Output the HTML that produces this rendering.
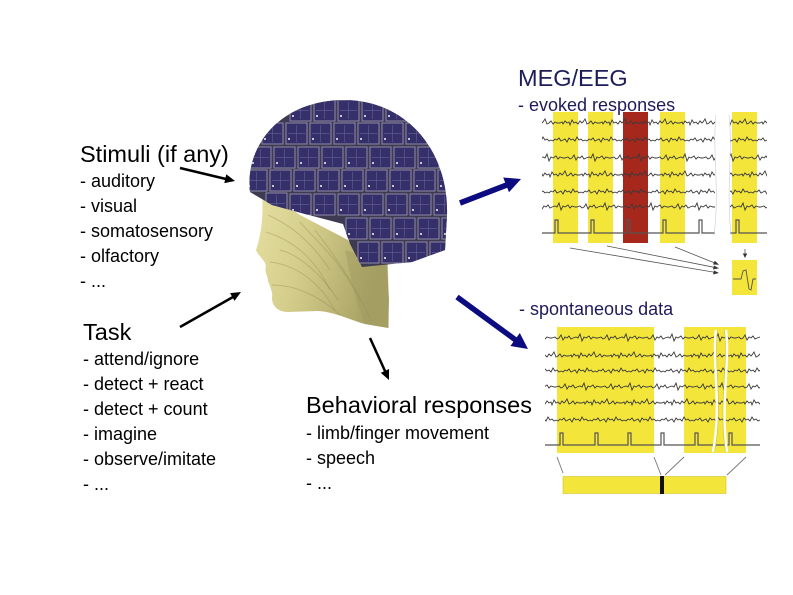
<!DOCTYPE html>
<html><head><meta charset="utf-8"><style>
html,body{margin:0;padding:0;background:#fff;}
svg{display:block;}
text{font-family:"Liberation Sans",Arial,sans-serif;}
</style></head><body>
<svg width="793" height="595" viewBox="0 0 793 595" xmlns="http://www.w3.org/2000/svg">
<defs>
<pattern id="p1" patternUnits="userSpaceOnUse" width="40" height="14"><polyline fill="none" stroke="#3a3a3a" stroke-width="0.9" points="0,7 2,6 3,8 5,5 7,7 9,6 10,9 12,4 14,7 16,6 18,8 20,5 22,7 23,6 25,3 27,8 29,7 31,5 33,8 35,6 37,7 40,7"/></pattern>
<pattern id="p2" patternUnits="userSpaceOnUse" width="34" height="14"><polyline fill="none" stroke="#3a3a3a" stroke-width="0.9" points="0,7 2,8 4,6 6,7 8,5 10,8 12,7 14,6 16,9 18,5 20,7 22,6 24,8 26,4 28,7 30,6 32,8 34,7"/></pattern>
<pattern id="p3" patternUnits="userSpaceOnUse" width="46" height="14"><polyline fill="none" stroke="#3a3a3a" stroke-width="0.9" points="0,7 3,6 5,8 7,7 9,4 11,9 13,6 15,7 17,5 19,8 21,7 24,6 26,7 28,3 30,10 32,6 34,7 37,5 39,8 41,6 44,7 46,7"/></pattern>
<linearGradient id="face" x1="0" y1="0" x2="1" y2="0.3">
<stop offset="0" stop-color="#e6e0a2"/><stop offset="0.45" stop-color="#d4cd8a"/><stop offset="1" stop-color="#aaa366"/>
</linearGradient>
<clipPath id="helm"><path d="M250,192 C245,150 275,103 340,100 C405,98 449,150 447,215 L445,250 L412,262 L362,267 L350,244 L343,224 L305,214 L272,205 Z"/></clipPath>
<g id="t"><rect x="0" y="0" width="21" height="21" fill="#36306a" stroke="#8e8aa8" stroke-width="1"/><path d="M10.5,2 V19 M2,10.5 H19" stroke="#5e5a92" stroke-width="0.7"/><rect x="2" y="15" width="2" height="2" fill="#c8c8d8"/></g>
</defs>

<!-- Left text -->
<text x="80" y="162" font-size="23.5">Stimuli (if any)</text>
<g font-size="18">
<text x="80" y="187">- auditory</text>
<text x="80" y="212">- visual</text>
<text x="80" y="237">- somatosensory</text>
<text x="80" y="262">- olfactory</text>
<text x="80" y="287">- ...</text>
</g>
<text x="83" y="340" font-size="23.5">Task</text>
<g font-size="18">
<text x="83" y="365">- attend/ignore</text>
<text x="83" y="390">- detect + react</text>
<text x="83" y="415">- detect + count</text>
<text x="83" y="440">- imagine</text>
<text x="83" y="465">- observe/imitate</text>
<text x="83" y="490">- ...</text>
</g>
<text x="306" y="413" font-size="23.5">Behavioral responses</text>
<g font-size="18">
<text x="306" y="439">- limb/finger movement</text>
<text x="306" y="464">- speech</text>
<text x="306" y="489">- ...</text>
</g>
<text x="518" y="86" font-size="23.5" fill="#1c1c5a">MEG/EEG</text>
<text x="518" y="111" font-size="18" fill="#1c1c5a">- evoked responses</text>
<text x="519" y="315" font-size="18" fill="#1c1c5a">- spontaneous data</text>

<!-- Black arrows -->
<g stroke="#000" stroke-width="2.5" fill="none">
<line x1="180" y1="168" x2="226" y2="179"/>
<line x1="180" y1="327" x2="233" y2="297"/>
<line x1="370" y1="338" x2="385" y2="371"/>
</g>
<polygon points="235,181 224.3,183.1 226.3,174.3" fill="#000"/>
<polygon points="241,292 234.5,300.9 230.1,293.1" fill="#000"/>
<polygon points="389,380 380.8,372.8 389,369" fill="#000"/>

<!-- Blue arrows -->
<line x1="460" y1="203" x2="508" y2="184.5" stroke="#0c0c80" stroke-width="5.5"/>
<polygon points="521,179 509,192.3 503.2,177.5" fill="#0c0c80"/>
<line x1="457" y1="297" x2="517" y2="341" stroke="#0c0c80" stroke-width="5.5"/>
<polygon points="528,349 510.4,346 519.8,333" fill="#0c0c80"/>

<!-- Head -->
<path d="M262,190 C264,220 260,238 256,250 C258,256 265,260 266,266 C264,272 268,276 268,281 C270,287 273,292 272,298 C272,306 278,312 288,312 L318,311 C335,312 350,320 365,324 L388,328 L389,300 L387,262 L362,266 L348,240 L300,215 Z" fill="url(#face)"/>
<g fill="none" stroke="#8c844a" stroke-opacity="0.35" stroke-width="1">
<path d="M268,215 C290,225 310,240 330,270"/>
<path d="M266,232 C292,240 315,258 330,290"/>
<path d="M270,262 C295,265 318,280 335,310"/>
<path d="M272,285 C295,285 318,295 340,315"/>
<path d="M300,222 C320,245 340,260 360,300"/>
<path d="M315,230 C330,250 350,275 372,322"/>
<path d="M280,250 C300,255 322,275 338,300"/>
</g>
<path d="M345,250 L388,262 L389,328 L365,324 C355,300 350,275 345,250 Z" fill="#9e9860" fill-opacity="0.45"/>
<g clip-path="url(#helm)">
<rect x="240" y="95" width="215" height="175" fill="#3e3a52"/>
<use href="#t" x="290" y="100"/><use href="#t" x="314" y="100"/><use href="#t" x="338" y="100"/><use href="#t" x="362" y="100"/><use href="#t" x="386" y="100"/><use href="#t" x="410" y="100"/>
<use href="#t" x="262" y="123"/><use href="#t" x="286" y="123"/><use href="#t" x="310" y="123"/><use href="#t" x="334" y="123"/><use href="#t" x="358" y="123"/><use href="#t" x="382" y="123"/><use href="#t" x="406" y="123"/><use href="#t" x="430" y="123"/>
<use href="#t" x="250" y="147"/><use href="#t" x="274" y="147"/><use href="#t" x="298" y="147"/><use href="#t" x="322" y="147"/><use href="#t" x="346" y="147"/><use href="#t" x="370" y="147"/><use href="#t" x="394" y="147"/><use href="#t" x="418" y="147"/><use href="#t" x="442" y="147"/>
<use href="#t" x="246" y="170"/><use href="#t" x="270" y="170"/><use href="#t" x="294" y="170"/><use href="#t" x="318" y="170"/><use href="#t" x="342" y="170"/><use href="#t" x="366" y="170"/><use href="#t" x="390" y="170"/><use href="#t" x="414" y="170"/><use href="#t" x="438" y="170"/>
<use href="#t" x="266" y="193"/><use href="#t" x="290" y="194"/><use href="#t" x="314" y="194"/><use href="#t" x="338" y="194"/><use href="#t" x="362" y="194"/><use href="#t" x="386" y="194"/><use href="#t" x="410" y="194"/><use href="#t" x="434" y="194"/>
<use href="#t" x="346" y="218"/><use href="#t" x="370" y="218"/><use href="#t" x="394" y="218"/><use href="#t" x="418" y="218"/><use href="#t" x="442" y="218"/>
<use href="#t" x="358" y="242"/><use href="#t" x="382" y="242"/><use href="#t" x="406" y="242"/><use href="#t" x="430" y="242"/>
</g>

<!-- Evoked panel -->
<g fill="#f3e53a">
<rect x="553" y="112" width="25" height="131"/>
<rect x="588" y="112" width="25" height="131"/>
<rect x="660" y="112" width="25" height="131"/>
<rect x="732" y="112" width="25" height="131"/>
</g>
<rect x="623" y="112" width="25" height="131" fill="#a6281d"/>
<g transform="translate(0,116)"><rect x="542" y="0" width="173" height="14" fill="url(#p1)"/><rect x="730" y="0" width="37" height="14" fill="url(#p1)"/></g>
<g transform="translate(7,133)"><rect x="535" y="0" width="173" height="14" fill="url(#p2)"/><rect x="723" y="0" width="37" height="14" fill="url(#p2)"/></g>
<g transform="translate(13,151)"><rect x="529" y="0" width="173" height="14" fill="url(#p3)"/><rect x="717" y="0" width="37" height="14" fill="url(#p3)"/></g>
<g transform="translate(20,168)"><rect x="522" y="0" width="173" height="14" fill="url(#p1)"/><rect x="710" y="0" width="37" height="14" fill="url(#p1)"/></g>
<g transform="translate(3,185)"><rect x="539" y="0" width="173" height="14" fill="url(#p2)"/><rect x="727" y="0" width="37" height="14" fill="url(#p2)"/></g>
<g transform="translate(25,200)"><rect x="517" y="0" width="173" height="14" fill="url(#p3)"/><rect x="705" y="0" width="37" height="14" fill="url(#p3)"/></g>
<path d="M542,233 H555 V220 H558 V233 H591 V220 H594 V233 H627 V220 H630 V233 H663 V220 H666 V233 H699 V220 H702 V233 H715 M730,233 H736 V220 H739 V233 H767" fill="none" stroke="#555" stroke-width="1.2"/>
<path d="M716,115 C712,150 720,190 714,235 M729,115 C733,150 726,190 731,235" fill="none" stroke="#ccc" stroke-width="0.6"/>
<g stroke="#555" stroke-width="0.8">
<line x1="570" y1="248" x2="716" y2="272.5"/>
<line x1="607" y1="246" x2="716" y2="267.7"/>
<line x1="675" y1="247" x2="716" y2="263.5"/>
<line x1="745" y1="249" x2="745" y2="254"/>
</g>
<g fill="#333">
<polygon points="719,273 713,274.5 714,270.5"/>
<polygon points="719,268.3 713,269.5 714,265.6"/>
<polygon points="719,264.8 713,264.5 714.8,260.8"/>
<polygon points="745,258 742.8,253.5 747.2,253.5"/>
</g>
<rect x="732" y="260" width="25" height="35" fill="#f3e53a"/>
<path d="M733,279 H741 L743,271 L746,270 L749,289 L751,290 L753,279 H756" fill="none" stroke="#555" stroke-width="0.9"/>

<!-- Spontaneous panel -->
<g fill="#f3e53a">
<rect x="557" y="327" width="97" height="126"/>
<rect x="684" y="327" width="62" height="126"/>
</g>
<g transform="translate(0,331)"><rect x="545" y="0" width="215" height="14" fill="url(#p3)"/></g>
<g transform="translate(9,349)"><rect x="536" y="0" width="215" height="14" fill="url(#p1)"/></g>
<g transform="translate(17,364)"><rect x="528" y="0" width="215" height="14" fill="url(#p2)"/></g>
<g transform="translate(4,380)"><rect x="541" y="0" width="215" height="14" fill="url(#p3)"/></g>
<g transform="translate(22,396)"><rect x="523" y="0" width="215" height="14" fill="url(#p1)"/></g>
<g transform="translate(12,413)"><rect x="533" y="0" width="215" height="14" fill="url(#p2)"/></g>
<path d="M545,445 H560 V433 H563 V445 H595 V433 H598 V445 H628 V433 H631 V445 H661 V433 H664 V445 H695 V433 H698 V445 H729 V433 H732 V445 H760" fill="none" stroke="#555" stroke-width="1.2"/>
<path d="M716,330 C712,365 722,405 713,452 M726,330 C730,365 720,405 727,452" fill="none" stroke="#fff" stroke-width="2.5"/>
<path d="M717.5,330 C713.5,365 723.5,405 714.5,452 M724.5,330 C728.5,365 718.5,405 725.5,452" fill="none" stroke="#c9bc40" stroke-width="0.5"/>
<g stroke="#777" stroke-width="0.9">
<line x1="557" y1="457" x2="563" y2="473"/>
<line x1="654" y1="457" x2="661" y2="475"/>
<line x1="684" y1="457" x2="665" y2="475"/>
<line x1="746" y1="457" x2="727" y2="475"/>
</g>
<rect x="563" y="476.5" width="163" height="17" fill="#f3e53a" stroke="#d2c22a" stroke-width="0.6"/>
<rect x="660" y="476" width="4" height="18" fill="#111"/>
</svg>
</body></html>
